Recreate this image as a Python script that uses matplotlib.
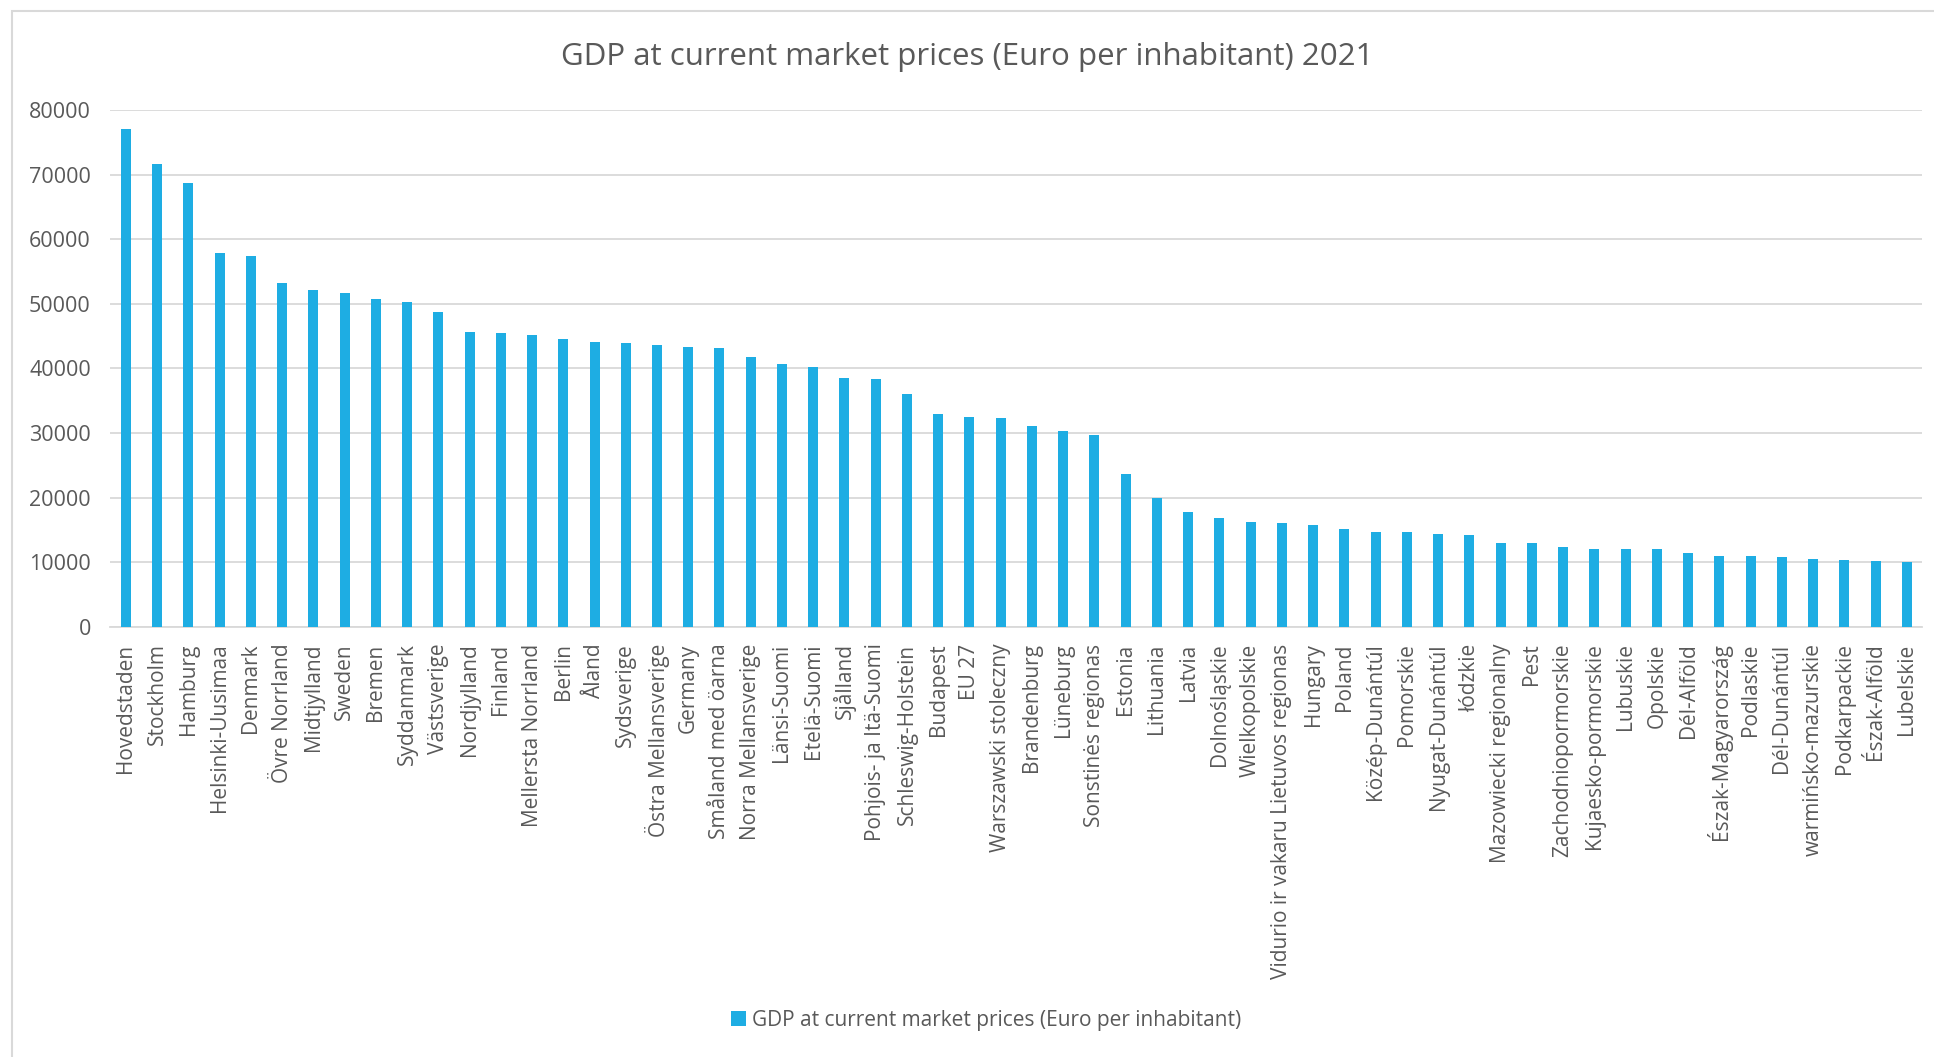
import matplotlib.pyplot as plt
from matplotlib.patches import Rectangle

regions = [
    "Hovedstaden", "Stockholm", "Hamburg", "Helsinki-Uusimaa", "Denmark",
    "Övre Norrland", "Midtjylland", "Sweden", "Bremen", "Syddanmark",
    "Västsverige", "Nordjylland", "Finland", "Mellersta Norrland", "Berlin",
    "Åland", "Sydsverige", "Östra Mellansverige", "Germany", "Småland med öarna",
    "Norra Mellansverige", "Länsi-Suomi", "Etelä-Suomi", "Sjålland",
    "Pohjois- ja Itä-Suomi", "Schleswig-Holstein", "Budapest", "EU 27",
    "Warszawski stoleczny", "Brandenburg", "Lüneburg", "Sonstinės regionas",
    "Estonia", "Lithuania", "Latvia", "Dolnośląskie", "Wielkopolskie",
    "Vidurio ir vakaru Lietuvos regionas", "Hungary", "Poland", "Közép-Dunántúl",
    "Pomorskie", "Nyugat-Dunántúl", "łódzkie", "Mazowiecki regionalny", "Pest",
    "Zachodniopormorskie", "Kujaesko-pormorskie", "Lubuskie", "Opolskie",
    "Dél-Alföld", "Észak-Magyarország", "Podlaskie", "Dél-Dunántúl",
    "warmińsko-mazurskie", "Podkarpackie", "Észak-Alföld", "Lubelskie",
]

gdp = [
    77100, 71700, 68700, 57900, 57400, 53200, 52100, 51600, 50700, 50300,
    48700, 45600, 45400, 45200, 44600, 44100, 44000, 43600, 43300, 43200,
    41700, 40600, 40200, 38500, 38400, 36000, 32900, 32400, 32300, 31100,
    30300, 29700, 23600, 20000, 17800, 16800, 16200, 16000, 15800, 15100,
    14700, 14700, 14300, 14200, 13000, 12900, 12400, 12100, 12100, 12000,
    11500, 11000, 10900, 10800, 10500, 10400, 10200, 10100,
]

yticks = [0, 10000, 20000, 30000, 40000, 50000, 60000, 70000, 80000]

title = "GDP at current market prices (Euro per inhabitant) 2021"
series_name = "GDP at current market prices (Euro per inhabitant)"

bar_color = "#1EADE3"
text_color = "#595959"
grid_color = "#D9D9D9"

plt.rcParams['font.family'] = ['Open Sans', 'DejaVu Sans']

fig = plt.figure(figsize=(19.34, 10.57), dpi=100)
ax = fig.add_axes([0.057, 0.407, 0.937, 0.489])

x = range(len(regions))
ax.bar(x, gdp, width=0.32, color=bar_color, label=series_name, zorder=3)

ax.set_xlim(-0.5, len(regions) - 0.5)
ax.set_ylim(0, 80000)
ax.set_yticks(yticks)
ax.set_yticklabels([str(v) for v in yticks])
ax.set_xticks(list(x))
ax.set_xticklabels(regions, rotation=90)

ax.grid(axis='y', color=grid_color, linewidth=1.3, zorder=0)
ax.tick_params(axis='both', length=0, colors=text_color)
ax.tick_params(axis='x', labelsize=15, pad=12)
ax.tick_params(axis='y', labelsize=15.5, pad=14)
for side in ['top', 'right', 'left']:
    ax.spines[side].set_visible(False)
ax.spines['bottom'].set_color(grid_color)
ax.spines['bottom'].set_linewidth(1.3)

fig.text(0.5, 0.946, title, ha='center', va='center', fontsize=22.5,
         color=text_color)

fig.legend(loc='center', bbox_to_anchor=(0.51, 0.035), frameon=False,
           fontsize=15, labelcolor=text_color, handlelength=0.7,
           handleheight=0.7, handletextpad=0.3)

# outer chart border (left and top edges visible)
fig.patches.append(Rectangle((12 / 1934, -0.1), 1.2, 1 - 11 / 1057 + 0.1,
                             transform=fig.transFigure, fill=False,
                             edgecolor=grid_color, linewidth=1.5))

fig.savefig("out.png", dpi=100)
